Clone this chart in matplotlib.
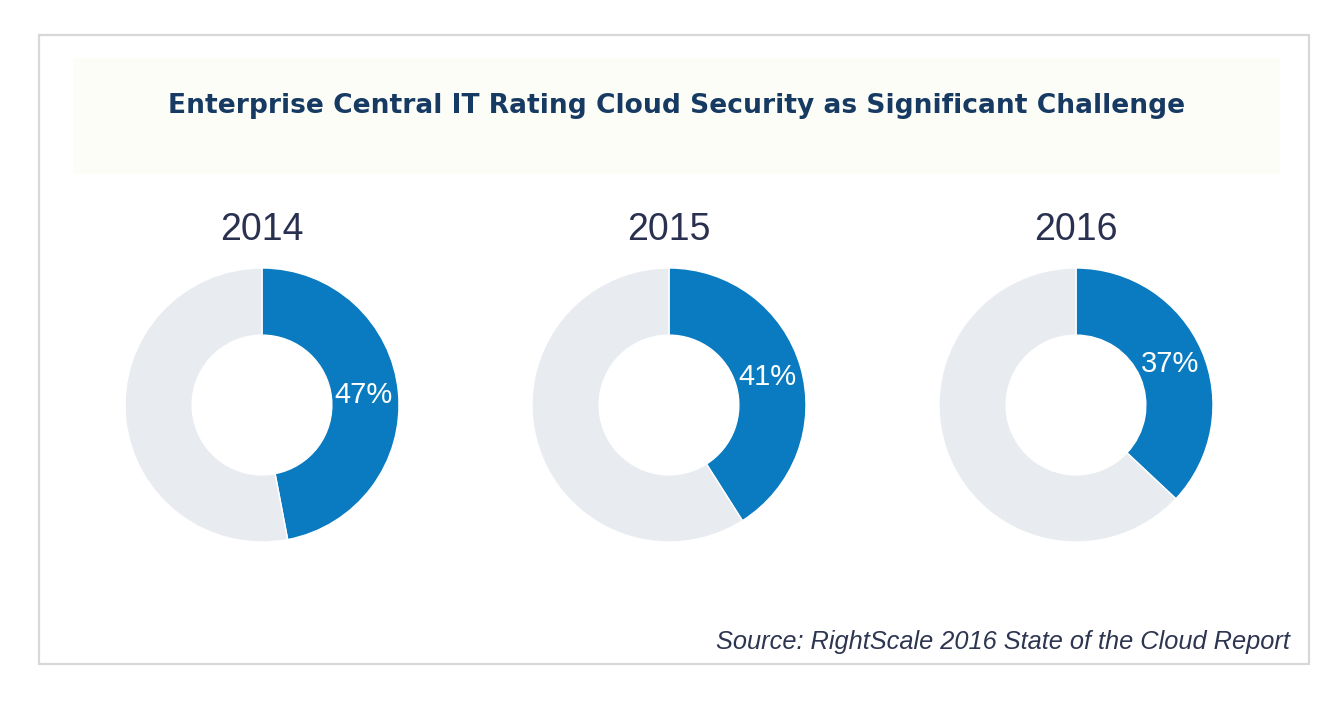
import matplotlib.pyplot as plt
from matplotlib.patches import Rectangle

# data
years = ['2014', '2015', '2016']
security_pct = [47, 41, 37]
title = 'Enterprise Central IT Rating Cloud Security as Significant Challenge'
source = 'Source: RightScale 2016 State of the Cloud Report'

W, H = 1340, 704
fig = plt.figure(figsize=(W / 100, H / 100), dpi=100)
fig.patch.set_facecolor('white')

# outer frame and title band
fig.patches.append(Rectangle((39 / W, 1 - 664 / H), 1270 / W, 629 / H, transform=fig.transFigure,
                             facecolor='white', edgecolor='#d6d8da', linewidth=1.6, zorder=-2))
fig.patches.append(Rectangle((73 / W, 1 - 174 / H), 1207 / W, 116 / H, transform=fig.transFigure,
                             facecolor='#fdfdf8', edgecolor='none', zorder=-1))

fig.text(677 / W, 1 - 106 / H, title, ha='center', va='center', fontsize=19.1,
         fontweight='bold', family='DejaVu Sans', color='#173a63')

centers_x = [262, 669, 1076]
cy, r = 405, 137
for year, val, cx in zip(years, security_pct, centers_x):
    ax = fig.add_axes([(cx - r) / W, 1 - (cy + r) / H, 2 * r / W, 2 * r / H])
    ax.pie([val, 100 - val], colors=['#0a7bc0', '#e8ebf0'], startangle=90, counterclock=False,
           radius=1, autopct=lambda p: f'{p:.0f}%' if p < 50 else '', pctdistance=0.745,
           wedgeprops=dict(width=0.49, edgecolor='white', linewidth=1),
           textprops=dict(color='white', fontsize=21, family='Liberation Sans'))
    ax.set_xlim(-1, 1)
    ax.set_ylim(-1, 1)
    ax.axis('off')
    fig.text(cx / W, 1 - 230 / H, year, ha='center', va='center', fontsize=27,
             family='Liberation Sans', color='#2a3150')

fig.text(1290 / W, 1 - 642 / H, source, ha='right', va='center', fontsize=18.3,
         style='italic', family='Liberation Sans', color='#2d3550')

fig.savefig('out.png', dpi=100)
